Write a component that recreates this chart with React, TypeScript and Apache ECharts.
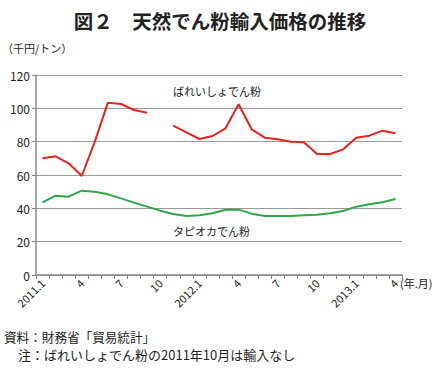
import React, { useEffect, useRef } from "react";
import * as echarts from "echarts";

const months: string[] = [
  "2011.1", "2", "3", "4", "5", "6", "7", "8", "9", "10", "11", "12",
  "2012.1", "2", "3", "4", "5", "6", "7", "8", "9", "10", "11", "12",
  "2013.1", "2", "3", "4",
];

const potatoStarch: (number | null)[] = [
  70.0, 71.2, 67.0, 59.4, 80.0, 103.4, 102.6, 99.0, 97.4, null, 89.6, 85.6,
  81.6, 83.4, 88.0, 102.4, 87.4, 82.4, 81.4, 80.0, 79.6, 72.6, 72.6, 75.4,
  82.4, 83.6, 86.6, 85.0,
];

const tapiocaStarch: number[] = [
  43.6, 47.6, 47.0, 50.6, 50.0, 48.4, 46.0, 43.4, 41.0, 38.6, 36.6, 35.4,
  35.8, 37.0, 39.2, 39.2, 36.8, 35.4, 35.4, 35.4, 35.8, 36.2, 37.0, 38.4,
  41.0, 42.4, 43.6, 45.6,
];

const yTicks = { min: 0, max: 120, interval: 20 };

const FONT = "'Noto Sans CJK JP', 'Noto Sans', sans-serif";

export default function App() {
  const ref = useRef<HTMLDivElement>(null);
  useEffect(() => {
    if (!ref.current) return;
    const chart = echarts.init(ref.current, null, { renderer: "svg" });
    chart.setOption({
      animation: false,
      backgroundColor: "#ffffff",
      textStyle: { fontFamily: FONT },
      title: {
        text: "図２　天然でん粉輸入価格の推移",
        left: "center",
        top: 6,
        textStyle: { fontFamily: FONT, fontSize: 19.5, fontWeight: "bold", color: "#222" },
      },
      grid: { left: 36, right: 38, top: 75, bottom: 93, containLabel: false },
      xAxis: {
        type: "category",
        data: months,
        boundaryGap: true,
        axisLine: { lineStyle: { color: "#888", width: 1.5 } },
        axisTick: { show: true, interval: 0, length: 4, lineStyle: { color: "#888" } },
        axisLabel: {
          interval: 2,
          rotate: 45,
          fontSize: 11,
          color: "#222",
          margin: 6,
          fontFamily: FONT,
        },
        splitLine: { show: false },
      },
      yAxis: {
        type: "value",
        min: yTicks.min,
        max: yTicks.max,
        interval: yTicks.interval,
        axisLine: { show: true, lineStyle: { color: "#888", width: 1.5 } },
        axisTick: { show: true, length: 4, lineStyle: { color: "#888" } },
        axisLabel: { fontSize: 12, color: "#222", margin: 6, fontFamily: FONT },
        splitLine: { show: true, lineStyle: { color: "#999", width: 1 } },
      },
      series: [
        {
          name: "ばれいしょでん粉",
          type: "line",
          data: potatoStarch,
          connectNulls: false,
          symbol: "none",
          lineStyle: { color: "#e8231e", width: 2 },
        },
        {
          name: "タピオカでん粉",
          type: "line",
          data: tapiocaStarch,
          symbol: "none",
          lineStyle: { color: "#2ea846", width: 2 },
        },
      ],
      graphic: [
        { type: "text", left: 2, top: 42, style: { text: "（千円/トン）", fontSize: 11, fontFamily: FONT, fill: "#222" } },
        { type: "text", left: 173, top: 85, style: { text: "ばれいしょでん粉", fontSize: 11, fontFamily: FONT, fill: "#222" } },
        { type: "text", left: 173, top: 225, style: { text: "タピオカでん粉", fontSize: 11, fontFamily: FONT, fill: "#222" } },
        { type: "text", left: 400, top: 277, style: { text: "(年.月)", fontSize: 11, fontFamily: FONT, fill: "#222" } },
        { type: "text", left: 4, top: 330, style: { text: "資料：財務省「貿易統計」", fontSize: 12.6, fontFamily: FONT, fill: "#222" } },
        { type: "text", left: 18, top: 348, style: { text: "注：ばれいしょでん粉の2011年10月は輸入なし", fontSize: 13, fontFamily: FONT, fill: "#222" } },
      ],
    });
    return () => chart.dispose();
  }, []);
  return (
    <div
      ref={ref}
      style={{ position: "fixed", left: 0, top: 0, width: 440, height: 368 }}
    />
  );
}
